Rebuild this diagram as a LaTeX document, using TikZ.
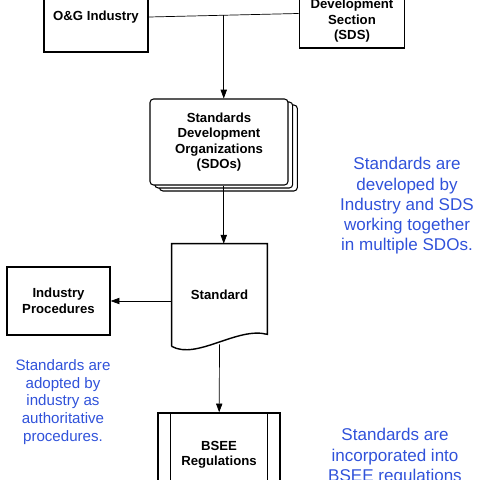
\documentclass[tikz,border=0pt]{standalone}
\usepackage{fontspec}
\setmainfont{Liberation Sans}
\usetikzlibrary{arrows.meta, shadows}
\definecolor{noteblue}{RGB}{48,82,218}
\begin{document}
\begin{tikzpicture}[x=0.02cm, y=-0.02cm,
  box/.style={draw, align=center, inner sep=0pt, line width=0.8pt,
    font=\fontsize{7.5}{8.8}\selectfont\bfseries},
  note/.style={text=noteblue, align=center, inner sep=0pt},
  >={Triangle[length=5pt,width=3.6pt]}]
\useasboundingbox (0,0) rectangle (480,480);
% top row
\node[box, line width=1.1pt, minimum width=2.08cm, minimum height=1.4cm] (og) at (96,17) {O\&G Industry};
\node[box, line width=1.1pt, minimum width=2.1cm, minimum height=1.08cm] (sds) at (352,21) {Development\\Section\\(SDS)};
\draw (og.east) -- coordinate[pos=0.5] (join) (sds.172);
% SDOs
\node[box, line width=0.6pt, rounded corners=2pt, fill=white,
  double copy shadow={shadow xshift=0.094cm, shadow yshift=-0.06cm, fill=white, draw=black},
  minimum width=2.76cm, minimum height=1.72cm] (sdo) at (219,142)
  {Standards\\Development\\Organizations\\(SDOs)};
\draw[->] (join) -- (join |- sdo.north);
% standard (document)
\node[align=center, inner sep=0pt, minimum width=1.9cm, minimum height=2.04cm,
  font=\fontsize{7.5}{8.8}\selectfont\bfseries] (std) at (219.5,295) {Standard};
\draw[line width=0.8pt] (std.south west) -- (std.north west) -- (std.north east)
  -- ([yshift=0.24cm]std.south east)
  .. controls +(-30,-8) and +(25,14) .. (std.south west);
\draw[->] (sdo.south -| join) -- (std.north -| join);
% industry procedures
\node[box, minimum width=2.06cm, minimum height=1.36cm] (ip) at (58.5,301) {Industry\\Procedures};
\draw[->] (std.west |- ip) -- (ip);
% BSEE regulations
\node[box, minimum width=2.44cm, minimum height=1.68cm] (bsee) at (219,455) {BSEE\\Regulations};
\draw[line width=0.8pt] ([xshift=0.26cm]bsee.north west) -- ([xshift=0.26cm]bsee.south west);
\draw[line width=0.8pt] ([xshift=-0.26cm]bsee.north east) -- ([xshift=-0.26cm]bsee.south east);
\draw[->] ([yshift=0.04cm]std.south) -- (bsee);
% notes
\node[note, font=\fontsize{9.7}{11.5}\selectfont] (devnote) at (407,206)
  {Standards are\\developed by\\Industry and SDS\\working together\\in multiple SDOs.};
\node[note, font=\fontsize{8.6}{10.1}\selectfont] (adoptnote) at (63,402)
  {Standards are\\adopted by\\industry as\\authoritative\\procedures.};
\node[note, font=\fontsize{9.7}{11.7}\selectfont] (incnote) at (395,457)
  {Standards are\\incorporated into\\BSEE regulations};
\end{tikzpicture}
\end{document}
